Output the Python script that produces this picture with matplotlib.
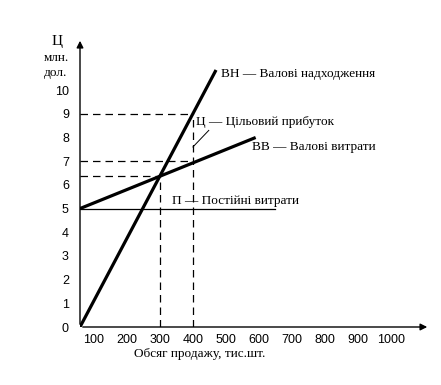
import matplotlib
matplotlib.use("Agg")
import matplotlib.pyplot as plt

# values (x in тис.шт., y in млн. дол.)
x_start = 58
revenue_x = [x_start, 470]
revenue_y = [0, 10.85]
cost_x = [x_start, 590]
cost_y = [5, 8.0]
fixed_x = [x_start, 650]
fixed_y = [5, 5]
breakeven_q, breakeven_v = 300, 6.37
target_q, target_rev, target_cost = 400, 9, 7

x_ticks = [100, 200, 300, 400, 500, 600, 700, 800, 900, 1000]
y_ticks = list(range(0, 11))

serif = "Liberation Serif"
sans = "Liberation Sans"

fig = plt.figure(figsize=(4.41, 3.85), dpi=100)
ax = fig.add_axes([80 / 441, 58 / 385, 350 / 441, 289 / 385])
ax.set_xlim(x_start, 1118)
ax.set_ylim(0, 12.2)
for s in ax.spines.values():
    s.set_visible(False)

# axes with arrows
ax.annotate("", xy=(1, 0), xytext=(0, 0), xycoords="axes fraction",
            arrowprops=dict(arrowstyle="-|>", lw=1, color="black", mutation_scale=10))
ax.annotate("", xy=(0, 1), xytext=(0, 0), xycoords="axes fraction",
            arrowprops=dict(arrowstyle="-|>", lw=1, color="black", mutation_scale=10))

dash = dict(color="black", lw=0.9, linestyle=(0, (6, 4)))
ax.plot([x_start, target_q], [target_rev, target_rev], **dash)
ax.plot([x_start, target_q], [target_cost, target_cost], **dash)
ax.plot([x_start, breakeven_q], [breakeven_v, breakeven_v], **dash)
ax.plot([target_q, target_q], [0, target_rev], **dash)
ax.plot([breakeven_q, breakeven_q], [0, breakeven_v], **dash)

ax.plot(fixed_x, fixed_y, color="black", lw=0.9)
ax.plot(revenue_x, revenue_y, color="black", lw=2.3, solid_capstyle="butt")
ax.plot(cost_x, cost_y, color="black", lw=2.3, solid_capstyle="butt")

# leader line to profit label
ax.plot([target_q, 448], [7.6, 8.3], color="black", lw=0.7)

ax.set_xticks(x_ticks)
ax.set_xticklabels([str(v) for v in x_ticks], fontfamily=sans, fontsize=9)
ax.set_yticks(y_ticks)
ax.set_yticklabels([str(v) for v in y_ticks], fontfamily=sans, fontsize=9)
ax.tick_params(axis="both", length=0)
ax.tick_params(axis="x", pad=5)
ax.tick_params(axis="y", pad=8)

fs = 9.5
ax.text(485, 10.7, "ВН — Валові надходження", fontfamily=serif, fontsize=fs, va="center")
ax.text(410, 8.65, "Ц — Цільовий прибуток", fontfamily=serif, fontsize=fs, va="center")
ax.text(580, 7.6, "ВВ — Валові витрати", fontfamily=serif, fontsize=fs, va="center")
ax.text(338, 5.3, "П — Постійні витрати", fontfamily=serif, fontsize=fs, va="center")

fig.text(57 / 441, 1 - 42 / 385, "Ц", fontfamily=serif, fontsize=11, ha="center", va="center")
fig.text(56 / 441, 1 - 58 / 385, "млн.", fontfamily=serif, fontsize=fs, ha="center", va="center")
fig.text(56 / 441, 1 - 73 / 385, "дол.", fontfamily=serif, fontsize=fs, ha="center", va="center")
fig.text(200 / 441, 1 - 354 / 385, "Обсяг продажу, тис.шт.", fontfamily=serif,
         fontsize=fs, ha="center", va="center")

fig.savefig("out.png", dpi=100)
